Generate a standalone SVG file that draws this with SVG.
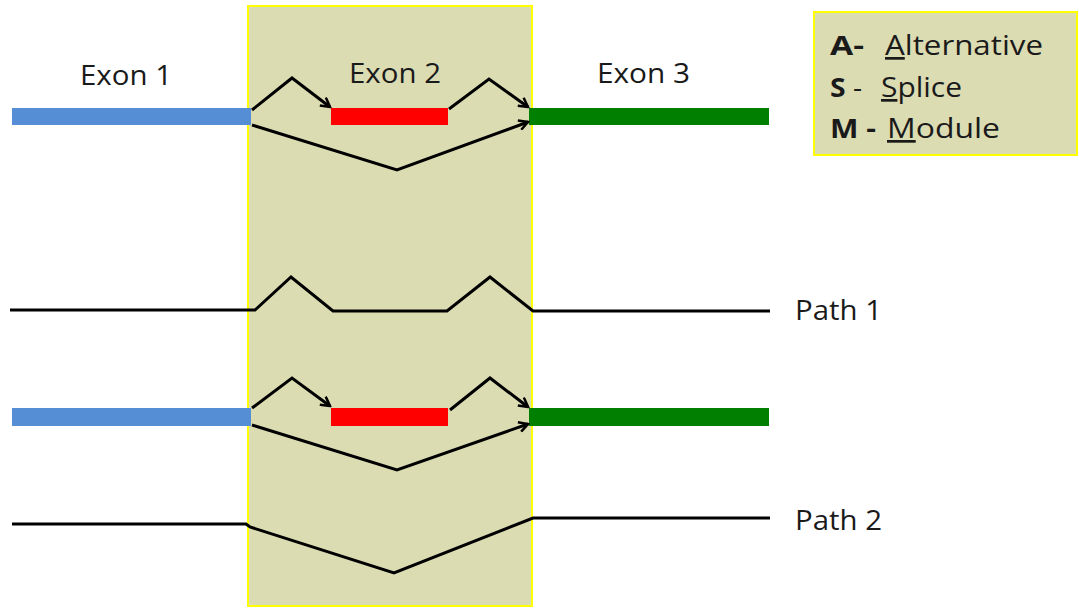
<svg xmlns="http://www.w3.org/2000/svg" width="1079" height="608" viewBox="0 0 1079 608">
<style>
text{font-family:"Open Sans","Liberation Sans",sans-serif;font-size:27px;fill:#1a1a1a}
.leg{font-size:27px}
.b{font-weight:bold}
.u{text-decoration:underline}
.ln{fill:none;stroke:#000;stroke-width:3;stroke-linejoin:miter}
.arr{fill:none;stroke:#000;stroke-width:3;marker-end:url(#ah)}
</style>
<defs>
<marker id="ah" viewBox="0 0 12 12" refX="10" refY="6" markerWidth="12" markerHeight="12" markerUnits="userSpaceOnUse" orient="auto">
<path d="M1,1 L10,6 L1,11" fill="none" stroke="#000" stroke-width="2.5"/>
</marker>
</defs>
<rect width="1079" height="608" fill="#fff"/>
<g id="module-region">
<rect x="248" y="6" width="284" height="600" fill="#dcdcb3" stroke="#ffff00" stroke-width="2"/>
</g>
<g id="legend">
<rect x="814" y="12" width="263" height="143" fill="#dcdcb3" stroke="#ffff00" stroke-width="2"/>
<text class="leg b" x="830" y="55" textLength="34" lengthAdjust="spacingAndGlyphs">A-</text>
<text class="leg" x="885" y="55" textLength="158" lengthAdjust="spacingAndGlyphs"><tspan class="u">A</tspan>lternative</text>
<text class="leg" x="830" y="97" textLength="32" lengthAdjust="spacingAndGlyphs"><tspan class="b">S</tspan> -</text>
<text class="leg" x="881" y="97" textLength="81" lengthAdjust="spacingAndGlyphs"><tspan class="u">S</tspan>plice</text>
<text class="leg b" x="830" y="138" textLength="46" lengthAdjust="spacingAndGlyphs">M -</text>
<text class="leg" x="887" y="138" textLength="113" lengthAdjust="spacingAndGlyphs"><tspan class="u">M</tspan>odule</text>
</g>
<g id="labels">
<text x="80" y="85" textLength="92" lengthAdjust="spacingAndGlyphs">Exon 1</text>
<text x="349" y="83" textLength="92" lengthAdjust="spacingAndGlyphs">Exon 2</text>
<text x="597" y="83" textLength="93" lengthAdjust="spacingAndGlyphs">Exon 3</text>
<text x="795" y="320" textLength="87" lengthAdjust="spacingAndGlyphs">Path 1</text>
<text x="795" y="530" textLength="87" lengthAdjust="spacingAndGlyphs">Path 2</text>
</g>
<g id="exon1-top"><rect x="12" y="108" width="239" height="17" fill="#558ed5"/></g>
<g id="exon2-top"><rect x="331" y="108" width="117" height="17" fill="#ff0000"/></g>
<g id="exon3-top"><rect x="529" y="108" width="240" height="17" fill="#007f00"/></g>
<g id="exon1-bottom"><rect x="12" y="408" width="239" height="18" fill="#558ed5"/></g>
<g id="exon2-bottom"><rect x="331" y="408" width="117" height="18" fill="#ff0000"/></g>
<g id="exon3-bottom"><rect x="529" y="408" width="240" height="18" fill="#007f00"/></g>
<g id="connectors">
<polyline class="arr" points="252,110 292,78 330,107"/>
<polyline class="arr" points="449,109 489,79 528,107"/>
<polyline class="arr" points="252,125 397,170 528,122"/>
<polyline class="arr" points="252,408 292,378 330,406"/>
<polyline class="arr" points="450,410 490,378 528,407"/>
<polyline class="arr" points="252,425 397,470 528,424"/>
<polyline class="ln" points="10,310 255,310 291,277 333,311 447,311 490,277 533,311 770,311"/>
<polyline class="ln" points="12,524 246,524 250,527 394,573 533,518 770,518"/>
</g>
</svg>
